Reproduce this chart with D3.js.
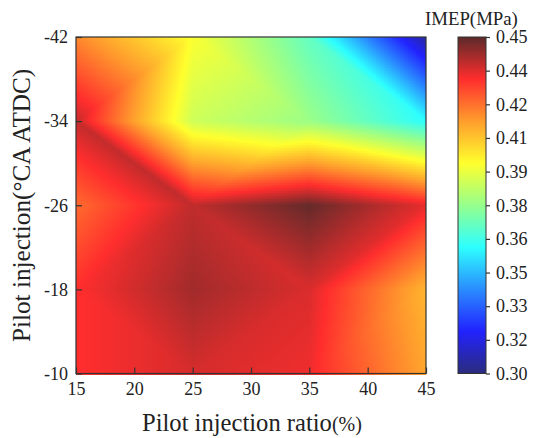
<!DOCTYPE html>
<html>
<head>
<meta charset="utf-8">
<script src="https://cdn.jsdelivr.net/npm/d3@7"></script>
<style>
  html, body { margin: 0; padding: 0; background: #fff; }
  svg { display: block; font-family: "Liberation Serif", serif; }
  text { fill: #222; }
</style>
</head>
<body>
<svg></svg>
<script>
  var ratios = [15, 25, 35, 45];
  var injections = [-42, -34, -26, -18, -10];

  // IMEP, one row per injection timing
  var imepAt42 = [0.416, 0.393, 0.366, 0.305];
  var imepAt34 = [0.438, 0.385, 0.376, 0.356];
  var imepAt26 = [0.421, 0.4385, 0.449, 0.434];
  var imepAt18 = [0.431, 0.442, 0.4355, 0.408];
  var imepAt10 = [0.431, 0.436, 0.433, 0.411];
  var imep = [imepAt42, imepAt34, imepAt26, imepAt18, imepAt10];

  // which way each grid cell is split into triangles
  var diagRow0 = ["/", "\\", "\\"];
  var diagRow1 = ["\\", "/", "\\"];
  var diagRow2 = ["/", "\\", "/"];
  var diagRow3 = ["\\", "/", "/"];
  var diagonals = [diagRow0, diagRow1, diagRow2, diagRow3];

  var xTicks = [15, 20, 25, 30, 35, 40, 45];
  var yTicks = [-42, -34, -26, -18, -10];
  var barTicks = [0.30, 0.315, 0.33, 0.345, 0.36, 0.375, 0.39, 0.405, 0.42, 0.435, 0.45];
  var barLabels = ["0.30", "0.32", "0.33", "0.35", "0.36", "0.38", "0.39", "0.41", "0.42", "0.44", "0.45"];

  var colorLevels = [0.30, 0.31875, 0.3375, 0.35625, 0.375, 0.39375, 0.4125, 0.43125, 0.45];
  var colorValues = ["#2b2c7c", "#2222ff", "#2a8cff", "#2dffff", "#96ff8c", "#ffff2d", "#ff9d2d", "#ff2d2d", "#5c2a2a"];

  var width = 533;
  var height = 438;
  var plotLeft = 76, plotRight = 426, plotTop = 37, plotBottom = 373.5;
  var barLeft = 458, barRight = 486;

  var svg = d3.select("svg")
      .attr("width", width)
      .attr("height", height);

  var xScale = d3.scaleLinear().domain([15, 45]).range([plotLeft, plotRight]);
  var yScale = d3.scaleLinear().domain([-42, -10]).range([plotTop, plotBottom]);
  var barScale = d3.scaleLinear().domain([0.30, 0.45]).range([plotBottom, plotTop]);
  var colorScale = d3.scaleLinear().domain(colorLevels).range(colorValues);

  var colIndex = d3.scaleLinear().domain(ratios).range([0, 1, 2, 3]).clamp(true);
  var rowIndex = d3.scaleLinear().domain(injections).range([0, 1, 2, 3, 4]).clamp(true);

  // linear interpolation inside the triangle of the cell
  function valueAt(ratio, injection) {
    var cx = colIndex(ratio), cy = rowIndex(injection);
    var i = Math.min(Math.floor(cx), 2), j = Math.min(Math.floor(cy), 3);
    var u = cx - i, v = cy - j;
    var a = imep[j][i], b = imep[j][i + 1], c = imep[j + 1][i], d = imep[j + 1][i + 1];
    if (diagonals[j][i] === "\\") {
      return u > v ? a + (b - a) * u + (d - b) * v : a + (c - a) * v + (d - c) * u;
    }
    return u + v < 1 ? a + (b - a) * u + (c - a) * v : d + (c - d) * (1 - u) + (b - d) * (1 - v);
  }

  var step = 2;
  var pixels = d3.cross(d3.range(plotLeft, plotRight, step), d3.range(plotTop, plotBottom, step));

  svg.append("g")
    .attr("shape-rendering", "crispEdges")
    .selectAll("rect")
    .data(pixels)
    .join("rect")
      .attr("x", d => d[0])
      .attr("y", d => d[1])
      .attr("width", step)
      .attr("height", step)
      .attr("fill", d => colorScale(valueAt(xScale.invert(d[0] + step / 2), yScale.invert(d[1] + step / 2))));

  svg.append("rect")
      .attr("x", plotLeft)
      .attr("y", plotTop)
      .attr("width", plotRight - plotLeft)
      .attr("height", plotBottom - plotTop)
      .attr("fill", "none")
      .attr("stroke", "#333")
      .attr("stroke-width", 1.2);

  var xAxis = d3.axisBottom(xScale).tickValues(xTicks).tickSize(-6).tickPadding(9);
  var yAxis = d3.axisLeft(yScale).tickValues(yTicks).tickSize(-6).tickPadding(8)
      .tickFormat(d => String(d));
  var barAxis = d3.axisRight(barScale).tickValues(barTicks).tickSize(4).tickPadding(6)
      .tickFormat((d, i) => barLabels[i]);

  function styleAxis(g) {
    g.select(".domain").remove();
    g.selectAll("line").attr("stroke", "#333").attr("stroke-width", 1.2);
    g.selectAll("text").style("font-size", "18px").style("font-family", "Liberation Serif");
  }

  svg.append("g")
      .attr("transform", "translate(0," + plotBottom + ")")
      .call(xAxis)
      .call(styleAxis);

  svg.append("g")
      .attr("transform", "translate(" + plotLeft + ",0)")
      .call(yAxis)
      .call(styleAxis);

  // colour bar
  var gradient = svg.append("defs").append("linearGradient")
      .attr("id", "bar")
      .attr("x1", 0).attr("y1", 1)
      .attr("x2", 0).attr("y2", 0);

  gradient.selectAll("stop")
    .data(colorLevels)
    .join("stop")
      .attr("offset", d => (d - 0.30) / 0.15)
      .attr("stop-color", d => colorScale(d));

  svg.append("rect")
      .attr("x", barLeft)
      .attr("y", plotTop)
      .attr("width", barRight - barLeft)
      .attr("height", plotBottom - plotTop)
      .attr("fill", "url(#bar)")
      .attr("stroke", "#333")
      .attr("stroke-width", 1);

  svg.append("g")
      .attr("transform", "translate(" + barRight + ",0)")
      .call(barAxis)
      .call(styleAxis);

  svg.append("text")
      .text("IMEP(MPa)")
      .attr("x", 425)
      .attr("y", 25)
      .style("font-size", "18.8px");

  var xTitle = svg.append("text")
      .attr("x", 142)
      .attr("y", 431)
      .style("font-size", "24.6px");
  xTitle.append("tspan").text("Pilot injection ratio");
  xTitle.append("tspan").text("(%)").style("font-size", "20px");

  svg.append("text")
      .text("Pilot injection(°CA ATDC)")
      .attr("transform", "translate(30,342) rotate(-90)")
      .style("font-size", "25.2px");
</script>
</body>
</html>
